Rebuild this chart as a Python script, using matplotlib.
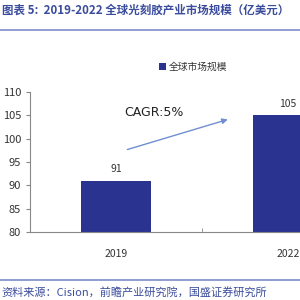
import matplotlib.pyplot as plt

plt.rcParams['font.family'] = ['Noto Sans CJK SC', 'DejaVu Sans']

years = ['2019', '2022']
values = [91, 105]
series_name = '全球市场规模'
title = '图表 5:  2019-2022 全球光刻胶产业市场规模（亿美元）'
source = '资料来源：Cision，前瞻产业研究院，国盛证券研究所'
cagr = 'CAGR:5%'

bar_color = '#2B3391'
title_color = '#3B4C9C'

fig = plt.figure(figsize=(3, 3), dpi=100)
ax = fig.add_axes([0.1, 0.227, 1.147, 0.466])

x = list(range(len(years)))
ax.bar(x, values, width=0.41, color=bar_color, label=series_name)
for xi, v in zip(x, values):
    ax.text(xi, v + 1.4, str(v), ha='center', va='bottom', fontsize=7.5, color='#333333')

ax.set_xlim(-0.5, 1.5)
ax.set_ylim(80, 110)
ax.set_yticks(range(80, 111, 5))
ax.set_xticks(x)
ax.set_xticklabels(years)
ax.set_xticks([0.5], minor=True)
ax.tick_params(axis='x', which='major', length=0, pad=12, labelsize=7.5, colors='#333333')
ax.tick_params(axis='x', which='minor', length=3, direction='in', color='#888888')
ax.tick_params(axis='y', length=3, color='#888888', labelsize=8, labelcolor='#333333')
for s in ['top', 'right']:
    ax.spines[s].set_visible(False)
for s in ['left', 'bottom']:
    ax.spines[s].set_color('#888888')
    ax.spines[s].set_linewidth(0.8)

# growth arrow
ax.annotate('', xy=(0.665, 104.3), xytext=(0.05, 97.5),
            arrowprops=dict(arrowstyle='-|>', color='#6F8FD2', lw=1.0,
                            mutation_scale=8))
ax.text(0.22, 105.6, cagr, ha='center', va='center', fontsize=9, color='#222222',
        family=['DejaVu Sans'])

leg = fig.legend(loc='center left', bbox_to_anchor=(0.5, 0.778), frameon=False,
                 fontsize=7, handlelength=0.7, handleheight=0.7, handletextpad=0.3)
for t in leg.get_texts():
    t.set_color('#333333')

fig.text(0.005, 0.965, title, fontsize=8.3, color=title_color, style='italic',
         ha='left', va='center', fontweight='bold')
fig.add_artist(plt.Line2D([0, 1], [0.9, 0.9], color='#7F8CC8', lw=1.2))
fig.add_artist(plt.Line2D([0, 1], [0.067, 0.067], color='#7F8CC8', lw=1.2))
fig.text(0.005, 0.027, source, fontsize=8, color=title_color, style='italic',
         ha='left', va='center')

fig.savefig('out.png', dpi=100)
